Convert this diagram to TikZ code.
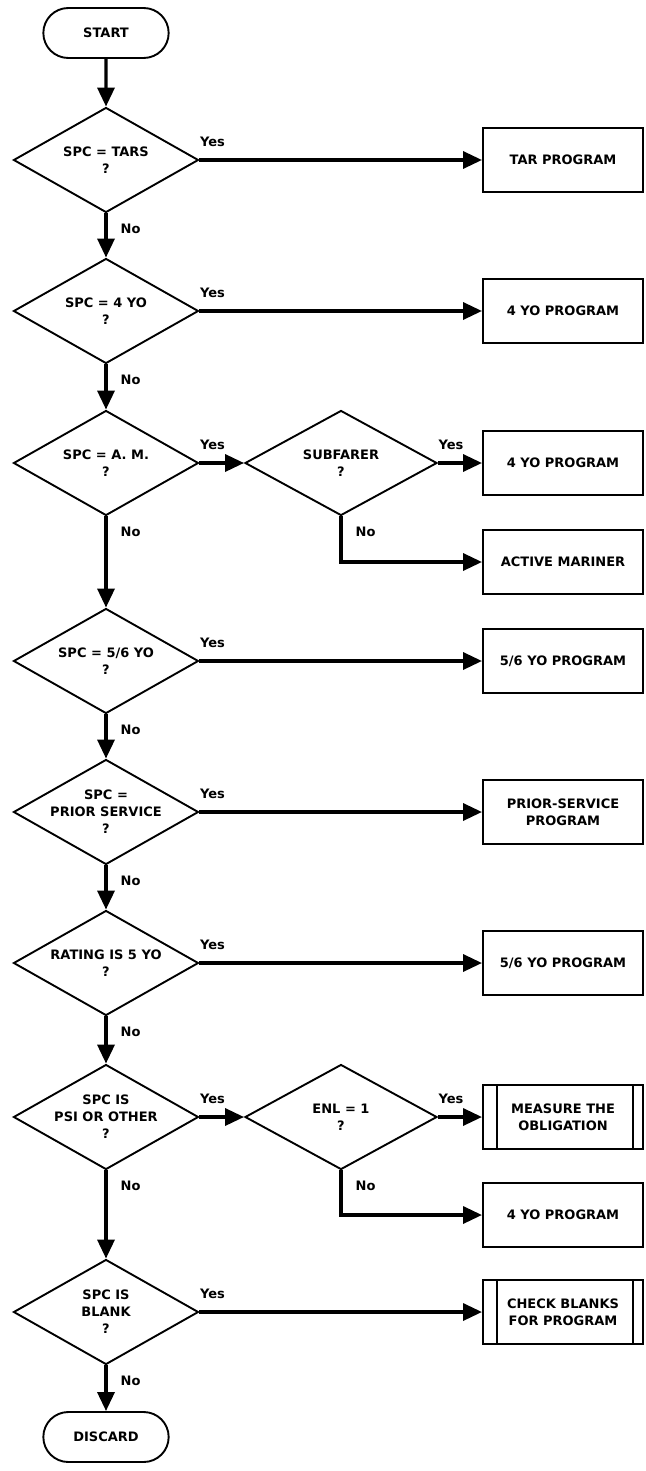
\documentclass[tikz,border=0pt]{standalone}
\usepackage{fontspec}
\setmainfont{DejaVu Sans}
\usetikzlibrary{shapes, arrows.meta, positioning}

\begin{document}
\begin{tikzpicture}[x=1pt, y=-1pt,
    font=\fontsize{13}{17}\selectfont\bfseries,
    decision/.style={diamond, draw, line width=1.9pt, minimum width=185pt, minimum height=105pt, inner sep=-14pt, aspect=1.76, align=center},
    terminal/.style={rounded rectangle, draw, line width=1.9pt, minimum width=132pt, minimum height=50pt},
    program/.style={rectangle, draw, line width=2pt, minimum width=160pt, minimum height=64pt, align=center},
    flow/.style={line width=3.4pt, -{Triangle[length=19pt,width=17pt]}},
    yes/.style={anchor=south west, inner sep=0pt, xshift=-1pt, yshift=12pt},
    no/.style={anchor=north west, inner sep=0pt, xshift=13pt, yshift=-9pt}]
    \useasboundingbox (0,0) rectangle (645,1471);
    % Columna principal
    \node[terminal] (start) at (106,33) {START};
    \node[decision] (tars) at (106,160) {SPC = TARS\\?};
    \node[decision] (fouryo) at (106,311) {SPC = 4 YO\\?};
    \node[decision] (am) at (106,463) {SPC = A. M.\\?};
    \node[decision] (ssix) at (106,661) {SPC = 5/6 YO\\?};
    \node[decision] (prior) at (106,812) {SPC =\\PRIOR SERVICE\\?};
    \node[decision] (rating) at (106,963) {RATING IS 5 YO\\?};
    \node[decision] (psi) at (106,1117) {SPC IS\\PSI OR OTHER\\?};
    \node[decision] (blank) at (106,1312) {SPC IS\\BLANK\\?};
    \node[terminal] (discard) at (106,1437) {DISCARD};
    % Decisiones de la segunda columna
    \node[decision, minimum width=192pt] (subf) at (341,463) {SUBFARER\\?};
    \node[decision, minimum width=192pt] (enl) at (341,1117) {ENL = 1\\?};
    % Programas
    \node[program] (tarp) at (563,160) {TAR PROGRAM};
    \node[program] (fourp) at (563,311) {4 YO PROGRAM};
    \node[program] (subp) at (563,463) {4 YO PROGRAM};
    \node[program] (actm) at (563,562) {ACTIVE MARINER};
    \node[program] (ssixp) at (563,661) {5/6 YO PROGRAM};
    \node[program] (priorp) at (563,812) {PRIOR-SERVICE\\PROGRAM};
    \node[program] (ratep) at (563,963) {5/6 YO PROGRAM};
    \node[program] (meas) at (563,1117) {MEASURE THE\\OBLIGATION};
    \node[program] (enlp) at (563,1215) {4 YO PROGRAM};
    \node[program] (chk) at (563,1312) {CHECK BLANKS\\FOR PROGRAM};
    \foreach \b in {meas,chk} {
        \draw[line width=1.5pt] ([xshift=15pt]\b.north west) -- ([xshift=15pt]\b.south west)
            ([xshift=-11pt]\b.north east) -- ([xshift=-11pt]\b.south east);
    }
    % Flechas
    \draw[flow] (start) -- (tars);
    \foreach \a/\b in {tars/fouryo, fouryo/am, am/ssix, ssix/prior, prior/rating, rating/psi, psi/blank, blank/discard} {
        \draw[flow] (\a.south) -- node[pos=0, no] {No} (\b.north);
    }
    \foreach \a/\b in {tars/tarp, fouryo/fourp, am/subf, subf/subp, ssix/ssixp, prior/priorp, rating/ratep, psi/enl, enl/meas, blank/chk} {
        \draw[flow] (\a.east) -- node[pos=0, yes] {Yes} (\b.west);
    }
    \draw[flow] (subf.south) |- node[pos=0, no] {No} (actm.west);
    \draw[flow] (enl.south) |- node[pos=0, no] {No} (enlp.west);
\end{tikzpicture}
\end{document}
